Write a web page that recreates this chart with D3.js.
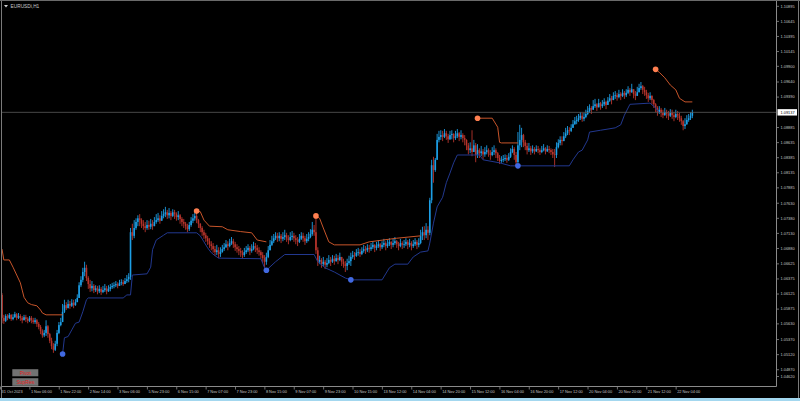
<!DOCTYPE html>
<html><head><meta charset="utf-8">
<script src="https://cdn.jsdelivr.net/npm/d3@7"></script>
<style>html,body{margin:0;padding:0;background:#000;overflow:hidden}</style>
</head><body>
<svg id="c" width="800" height="401"></svg>
<script>
const symbolTitle = "EURUSDi,H1";
const timeLabels = ["31 Oct 2023","1 Nov 06:00","1 Nov 22:00","2 Nov 14:00","3 Nov 06:00","5 Nov 23:00","6 Nov 15:00","7 Nov 07:00","7 Nov 23:00","8 Nov 15:00","9 Nov 07:00","9 Nov 23:00","10 Nov 15:00","13 Nov 12:00","14 Nov 04:00","14 Nov 20:00","15 Nov 12:00","16 Nov 04:00","16 Nov 20:00","17 Nov 12:00","20 Nov 04:00","20 Nov 20:00","21 Nov 12:00","22 Nov 04:00"];
const barsPerTimeLabel = 16;
const priceTicks = [1.10895,1.10645,1.10395,1.10145,1.09900,1.09640,1.09390,1.08885,1.08635,1.08385,1.08135,1.07885,1.07630,1.07380,1.07130,1.06880,1.06625,1.06375,1.06125,1.05875,1.05630,1.05370,1.05120,1.04870,1.04620];
const bidPrice = 1.09137;
const buttons = ["Pivot","SupRes"];
const firstOpen = 1.0611;
const closes = [
1.0573,1.0568,1.0576,1.0573,1.0578,1.0571,1.0574,1.0579,1.0573,1.0576,
1.0573,1.0569,1.0574,1.0571,1.0568,1.0573,1.0569,1.0566,1.0569,1.0563,
1.0558,1.0551,1.0544,1.0548,1.0559,1.0546,1.0535,1.0526,1.0520,1.0530,
1.0548,1.0561,1.0566,1.0583,1.0594,1.0589,1.0596,1.0593,1.0598,1.0594,
1.0599,1.0606,1.0627,1.0636,1.0649,1.0656,1.0639,1.0629,1.0622,1.0626,
1.0619,1.0622,1.0617,1.0621,1.0616,1.0619,1.0622,1.0617,1.0621,1.0624,
1.0626,1.0627,1.0629,1.0626,1.0631,1.0632,1.0629,1.0634,1.0637,1.0641,
1.0715,1.0709,1.0722,1.0732,1.0738,1.0735,1.0729,1.0725,1.0722,1.0727,
1.0724,1.0729,1.0725,1.0732,1.0735,1.0738,1.0734,1.0742,1.0745,1.0748,
1.0743,1.0747,1.0742,1.0748,1.0745,1.0740,1.0743,1.0737,1.0732,1.0729,
1.0725,1.0720,1.0727,1.0734,1.0738,1.0742,1.0735,1.0729,1.0722,1.0715,
1.0710,1.0705,1.0700,1.0695,1.0692,1.0687,1.0682,1.0685,1.0679,1.0682,
1.0687,1.0690,1.0695,1.0692,1.0697,1.0700,1.0695,1.0690,1.0687,1.0684,
1.0681,1.0677,1.0682,1.0685,1.0689,1.0684,1.0687,1.0692,1.0689,1.0685,
1.0682,1.0677,1.0672,1.0666,1.0674,1.0685,1.0694,1.0700,1.0705,1.0709,
1.0705,1.0709,1.0704,1.0707,1.0710,1.0705,1.0702,1.0707,1.0709,1.0705,
1.0702,1.0699,1.0704,1.0709,1.0705,1.0700,1.0704,1.0707,1.0712,1.0719,
1.0715,1.0685,1.0666,1.0669,1.0662,1.0666,1.0661,1.0664,1.0669,1.0666,
1.0671,1.0667,1.0672,1.0669,1.0674,1.0666,1.0662,1.0659,1.0664,1.0667,
1.0674,1.0677,1.0676,1.0681,1.0682,1.0679,1.0684,1.0687,1.0685,1.0689,
1.0687,1.0690,1.0694,1.0689,1.0692,1.0695,1.0690,1.0694,1.0697,1.0692,
1.0695,1.0699,1.0694,1.0697,1.0700,1.0695,1.0692,1.0697,1.0694,1.0695,
1.0699,1.0694,1.0697,1.0692,1.0695,1.0699,1.0694,1.0697,1.0709,1.0715,
1.0710,1.0719,1.0714,1.0768,1.0826,1.0818,1.0835,1.0868,1.0873,1.0876,
1.0873,1.0879,1.0874,1.0869,1.0876,1.0878,1.0871,1.0874,1.0879,1.0873,
1.0876,1.0871,1.0868,1.0859,1.0851,1.0854,1.0848,1.0859,1.0843,1.0851,
1.0846,1.0849,1.0844,1.0848,1.0851,1.0846,1.0843,1.0848,1.0851,1.0846,
1.0838,1.0833,1.0835,1.0836,1.0838,1.0835,1.0840,1.0848,1.0853,1.0843,
1.0831,1.0859,1.0868,1.0876,1.0864,1.0858,1.0851,1.0854,1.0849,1.0853,
1.0849,1.0853,1.0851,1.0848,1.0851,1.0854,1.0849,1.0853,1.0851,1.0848,
1.0844,1.0843,1.0856,1.0863,1.0868,1.0866,1.0874,1.0879,1.0884,1.0883,
1.0888,1.0894,1.0899,1.0901,1.0904,1.0908,1.0903,1.0906,1.0911,1.0916,
1.0921,1.0918,1.0924,1.0927,1.0922,1.0929,1.0924,1.0927,1.0931,1.0926,
1.0933,1.0937,1.0934,1.0941,1.0942,1.0939,1.0944,1.0941,1.0946,1.0942,
1.0946,1.0951,1.0947,1.0952,1.0944,1.0941,1.0947,1.0954,1.0957,1.0951,
1.0947,1.0942,1.0937,1.0941,1.0934,1.0927,1.0921,1.0914,1.0918,1.0913,
1.0909,1.0914,1.0911,1.0908,1.0913,1.0909,1.0906,1.0911,1.0908,1.0904,
1.0899,1.0891,1.0894,1.0901,1.0904,1.0908,1.0914];
const highs = [
1.0614,1.0578,1.0579,1.0579,1.0581,1.0579,1.0579,1.0583,1.0581,1.0581,
1.0579,1.0576,1.0578,1.0578,1.0574,1.0576,1.0576,1.0573,1.0573,1.0571,
1.0566,1.0561,1.0554,1.0553,1.0569,1.0561,1.0548,1.0540,1.0531,1.0535,
1.0553,1.0566,1.0573,1.0596,1.0603,1.0599,1.0603,1.0601,1.0604,1.0603,
1.0604,1.0612,1.0632,1.0642,1.0656,1.0666,1.0661,1.0642,1.0636,1.0634,
1.0629,1.0627,1.0626,1.0627,1.0624,1.0626,1.0629,1.0626,1.0627,1.0629,
1.0631,1.0632,1.0634,1.0632,1.0636,1.0637,1.0636,1.0639,1.0644,1.0647,
1.0722,1.0729,1.0735,1.0738,1.0743,1.0745,1.0738,1.0735,1.0732,1.0735,
1.0734,1.0737,1.0735,1.0740,1.0745,1.0747,1.0743,1.0750,1.0753,1.0757,
1.0752,1.0755,1.0750,1.0753,1.0752,1.0748,1.0750,1.0745,1.0740,1.0737,
1.0732,1.0729,1.0732,1.0740,1.0745,1.0748,1.0747,1.0737,1.0730,1.0725,
1.0719,1.0714,1.0709,1.0705,1.0700,1.0697,1.0692,1.0694,1.0690,1.0690,
1.0694,1.0697,1.0702,1.0700,1.0704,1.0707,1.0704,1.0699,1.0695,1.0692,
1.0689,1.0685,1.0689,1.0692,1.0695,1.0692,1.0695,1.0699,1.0697,1.0694,
1.0690,1.0685,1.0682,1.0677,1.0681,1.0692,1.0702,1.0709,1.0712,1.0715,
1.0714,1.0715,1.0712,1.0715,1.0719,1.0714,1.0710,1.0715,1.0717,1.0714,
1.0710,1.0707,1.0712,1.0715,1.0714,1.0709,1.0712,1.0715,1.0720,1.0732,
1.0727,1.0740,1.0690,1.0676,1.0672,1.0674,1.0669,1.0672,1.0677,1.0674,
1.0677,1.0676,1.0679,1.0677,1.0681,1.0674,1.0671,1.0667,1.0671,1.0676,
1.0681,1.0684,1.0682,1.0687,1.0689,1.0687,1.0690,1.0694,1.0692,1.0695,
1.0694,1.0697,1.0700,1.0695,1.0699,1.0702,1.0697,1.0700,1.0704,1.0700,
1.0702,1.0705,1.0700,1.0704,1.0707,1.0702,1.0699,1.0704,1.0700,1.0702,
1.0705,1.0702,1.0704,1.0700,1.0702,1.0705,1.0702,1.0705,1.0719,1.0724,
1.0725,1.0730,1.0725,1.0772,1.0835,1.0840,1.0838,1.0878,1.0883,1.0884,
1.0883,1.0886,1.0883,1.0878,1.0883,1.0884,1.0879,1.0883,1.0886,1.0881,
1.0884,1.0879,1.0876,1.0869,1.0863,1.0864,1.0884,1.0868,1.0863,1.0861,
1.0854,1.0858,1.0853,1.0856,1.0859,1.0854,1.0851,1.0856,1.0859,1.0854,
1.0848,1.0843,1.0841,1.0843,1.0844,1.0843,1.0846,1.0854,1.0859,1.0856,
1.0848,1.0881,1.0893,1.0888,1.0878,1.0868,1.0863,1.0863,1.0858,1.0859,
1.0856,1.0859,1.0858,1.0854,1.0858,1.0861,1.0856,1.0859,1.0858,1.0854,
1.0853,1.0853,1.0864,1.0869,1.0874,1.0874,1.0881,1.0888,1.0891,1.0889,
1.0894,1.0901,1.0906,1.0908,1.0911,1.0914,1.0913,1.0913,1.0918,1.0924,
1.0927,1.0924,1.0934,1.0936,1.0929,1.0936,1.0931,1.0934,1.0937,1.0933,
1.0939,1.0944,1.0941,1.0947,1.0949,1.0946,1.0951,1.0947,1.0952,1.0949,
1.0952,1.0957,1.0954,1.0961,1.0952,1.0949,1.0956,1.0961,1.0964,1.0959,
1.0956,1.0951,1.0946,1.0947,1.0942,1.0936,1.0929,1.0924,1.0924,1.0921,
1.0918,1.0921,1.0918,1.0916,1.0919,1.0918,1.0914,1.0918,1.0916,1.0913,
1.0908,1.0901,1.0904,1.0909,1.0911,1.0914,1.0918];
const lows = [
1.0564,1.0563,1.0566,1.0569,1.0571,1.0568,1.0569,1.0573,1.0569,1.0571,
1.0568,1.0564,1.0569,1.0566,1.0564,1.0566,1.0564,1.0563,1.0563,1.0558,
1.0554,1.0546,1.0540,1.0541,1.0543,1.0540,1.0531,1.0521,1.0515,1.0518,
1.0526,1.0546,1.0559,1.0566,1.0581,1.0586,1.0589,1.0588,1.0591,1.0589,
1.0593,1.0599,1.0606,1.0624,1.0632,1.0642,1.0634,1.0621,1.0616,1.0617,
1.0614,1.0616,1.0612,1.0614,1.0611,1.0614,1.0616,1.0612,1.0616,1.0617,
1.0621,1.0622,1.0624,1.0622,1.0626,1.0627,1.0626,1.0629,1.0631,1.0632,
1.0636,1.0702,1.0705,1.0719,1.0725,1.0725,1.0722,1.0719,1.0715,1.0719,
1.0719,1.0720,1.0719,1.0725,1.0729,1.0732,1.0729,1.0734,1.0738,1.0740,
1.0737,1.0738,1.0735,1.0740,1.0737,1.0734,1.0735,1.0729,1.0725,1.0722,
1.0719,1.0715,1.0717,1.0724,1.0730,1.0734,1.0730,1.0722,1.0715,1.0709,
1.0704,1.0699,1.0694,1.0689,1.0685,1.0681,1.0676,1.0677,1.0672,1.0674,
1.0681,1.0684,1.0689,1.0685,1.0690,1.0694,1.0689,1.0684,1.0681,1.0677,
1.0674,1.0671,1.0674,1.0679,1.0682,1.0677,1.0681,1.0685,1.0682,1.0679,
1.0676,1.0671,1.0664,1.0656,1.0661,1.0672,1.0685,1.0692,1.0697,1.0702,
1.0699,1.0700,1.0697,1.0700,1.0702,1.0699,1.0695,1.0700,1.0702,1.0699,
1.0695,1.0692,1.0697,1.0702,1.0699,1.0694,1.0697,1.0700,1.0705,1.0709,
1.0709,1.0679,1.0659,1.0662,1.0656,1.0659,1.0654,1.0657,1.0662,1.0659,
1.0664,1.0661,1.0666,1.0662,1.0667,1.0659,1.0656,1.0649,1.0652,1.0661,
1.0659,1.0671,1.0669,1.0674,1.0676,1.0674,1.0677,1.0681,1.0679,1.0682,
1.0681,1.0684,1.0687,1.0682,1.0685,1.0689,1.0684,1.0687,1.0690,1.0685,
1.0689,1.0692,1.0687,1.0690,1.0694,1.0689,1.0685,1.0690,1.0687,1.0689,
1.0692,1.0687,1.0690,1.0685,1.0689,1.0692,1.0687,1.0690,1.0695,1.0702,
1.0702,1.0705,1.0702,1.0710,1.0763,1.0797,1.0815,1.0835,1.0864,1.0868,
1.0866,1.0871,1.0868,1.0863,1.0868,1.0869,1.0864,1.0868,1.0871,1.0866,
1.0869,1.0864,1.0859,1.0851,1.0844,1.0846,1.0841,1.0851,1.0831,1.0838,
1.0838,1.0841,1.0836,1.0840,1.0844,1.0840,1.0835,1.0841,1.0843,1.0838,
1.0833,1.0828,1.0830,1.0831,1.0833,1.0830,1.0833,1.0838,1.0846,1.0835,
1.0825,1.0830,1.0851,1.0856,1.0856,1.0851,1.0844,1.0848,1.0843,1.0846,
1.0844,1.0848,1.0846,1.0843,1.0846,1.0849,1.0844,1.0848,1.0846,1.0843,
1.0838,1.0823,1.0838,1.0854,1.0859,1.0859,1.0866,1.0871,1.0876,1.0876,
1.0881,1.0888,1.0893,1.0894,1.0898,1.0901,1.0898,1.0899,1.0904,1.0909,
1.0913,1.0911,1.0918,1.0921,1.0916,1.0922,1.0918,1.0921,1.0924,1.0919,
1.0926,1.0931,1.0927,1.0934,1.0936,1.0933,1.0937,1.0934,1.0939,1.0936,
1.0939,1.0944,1.0941,1.0946,1.0937,1.0934,1.0941,1.0947,1.0951,1.0944,
1.0941,1.0936,1.0931,1.0934,1.0927,1.0921,1.0914,1.0908,1.0911,1.0906,
1.0904,1.0908,1.0904,1.0901,1.0906,1.0903,1.0899,1.0904,1.0901,1.0898,
1.0893,1.0884,1.0886,1.0893,1.0898,1.0901,1.0904];
// resistance / support trailing lines: [barIndex, price] vertices
const resistanceLines = [
 [[0,1.0687],[1,1.0669],[4,1.0669],[6,1.0657],[8,1.0644],[10,1.0631],[11,1.0619],[12,1.0607],[14,1.0598],[16,1.0595],[19,1.0593],[21,1.0586],[22,1.0581],[24,1.0578],[33,1.0578]],
 [[106,1.0750],[108,1.0749],[110,1.0735],[113,1.0725],[120,1.0724],[123,1.0719],[130,1.0716],[136,1.0714],[139,1.0702],[144,1.0699]],
 [[171,1.0742],[173,1.0738],[175,1.0722],[178,1.0699],[181,1.0694],[195,1.0694],[200,1.0699],[215,1.0705],[228,1.0709]],
 [[259,1.0904],[267,1.0904],[270,1.0889],[271,1.0864],[272,1.0863],[281,1.0863]],
 [[356,1.0985],[358,1.0980],[361,1.0971],[364,1.0959],[367,1.0951],[369,1.0937],[372,1.0931],[376,1.0931]]
];
const supportLines = [
 [[33,1.0513],[34,1.0540],[36,1.0542],[38,1.0553],[40,1.0564],[42,1.0566],[44,1.0583],[46,1.0603],[47,1.0606],[66,1.0606],[68,1.0611],[70,1.0611],[71,1.0644],[79,1.0646],[81,1.0657],[82,1.0686],[84,1.0702],[88,1.0710],[90,1.0714],[106,1.0714],[108,1.0709],[110,1.0699],[112,1.0689],[114,1.0681],[116,1.0676],[118,1.0672],[141,1.0671],[143,1.0656],[144,1.0652],[149,1.0666],[154,1.0678],[170,1.0678],[172,1.0666],[176,1.0656],[181,1.0649],[187,1.0639],[190,1.0636],[207,1.0636],[211,1.0656],[214,1.0662],[221,1.0662],[224,1.0674],[228,1.0682],[232,1.0684],[233,1.0697],[235,1.0730],[237,1.0757],[240,1.0773],[242,1.0797],[244,1.0813],[246,1.0830],[248,1.0843],[260,1.0843],[262,1.0835],[271,1.0830],[277,1.0825],[309,1.0825],[311,1.0835],[314,1.0848],[316,1.0851],[319,1.0868],[320,1.0881],[326,1.0884],[334,1.0888],[337,1.0893],[339,1.0909],[342,1.0927],[353,1.0929],[356,1.0921],[358,1.0913]]
];
const resistanceDots = [[106,1.0750],[171,1.0742],[259,1.0904],[356,1.0985]];
const supportDots = [[33,1.0513],[144,1.0652],[190,1.0636],[281,1.0825]];

const W = 800, H = 401;
const plotLeft = 2, plotRight = 776.5, plotTop = 0, plotBottom = 386.5;
const barStep = 1.836;
const svg = d3.select("#c");
const font = "'Liberation Sans', Arial, sans-serif";
const axisColor = "#8a8a8a", textColor = "#c4c4c4";
const bullColor = "#1d9fe6", bearColor = "#b8342c";

const x = d3.scaleLinear().domain([0, closes.length - 1]).range([plotLeft, plotLeft + barStep * (closes.length - 1)]);
const y = d3.scaleLinear().domain([1.04620, 1.10895]).range([384.8, 6.3]);

svg.append("rect").attr("width", W).attr("height", H).attr("fill", "#000");

// candles
const bars = closes.map((c, i) => {
  const o = i === 0 ? firstOpen : closes[i - 1];
  return {i, o, c, h: Math.max(highs[i], o, c), l: Math.min(lows[i], o, c)};
});
const gC = svg.append("g");
gC.selectAll("line.w").data(bars).join("line")
  .attr("x1", d => x(d.i)).attr("x2", d => x(d.i))
  .attr("y1", d => y(d.h)).attr("y2", d => y(d.l))
  .attr("stroke", d => d.c >= d.o ? bullColor : bearColor).attr("stroke-width", 0.9);
gC.selectAll("rect.b").data(bars).join("rect")
  .attr("x", d => x(d.i) - 0.8).attr("width", 1.6)
  .attr("y", d => y(Math.max(d.o, d.c)))
  .attr("height", d => Math.max(0.8, y(Math.min(d.o, d.c)) - y(Math.max(d.o, d.c))))
  .attr("fill", d => d.c >= d.o ? bullColor : bearColor);

// indicator lines
const line = d3.line().x(d => x(d[0])).y(d => y(d[1]));
svg.append("g").selectAll("path").data(supportLines).join("path")
  .attr("d", line).attr("fill", "none").attr("stroke", "#22388f").attr("stroke-width", 1);
svg.append("g").selectAll("path").data(resistanceLines).join("path")
  .attr("d", line).attr("fill", "none").attr("stroke", "#c8552a").attr("stroke-width", 1);
svg.append("g").selectAll("circle").data(supportDots).join("circle")
  .attr("cx", d => x(d[0])).attr("cy", d => y(d[1])).attr("r", 2.8).attr("fill", "#4169e1");
svg.append("g").selectAll("circle").data(resistanceDots).join("circle")
  .attr("cx", d => x(d[0])).attr("cy", d => y(d[1])).attr("r", 2.8).attr("fill", "#ff7f50");

// bid line
const yb = y(bidPrice);
svg.append("line").attr("x1", plotLeft).attr("x2", plotRight).attr("y1", yb).attr("y2", yb)
  .attr("stroke", "#5a5a5a").attr("stroke-width", 0.8);

// frame / axes
svg.append("line").attr("x1", plotRight).attr("x2", plotRight).attr("y1", 0).attr("y2", plotBottom).attr("stroke", axisColor).attr("stroke-width", 1);
svg.append("line").attr("x1", plotLeft - 0.5).attr("x2", plotRight).attr("y1", plotBottom).attr("y2", plotBottom).attr("stroke", axisColor).attr("stroke-width", 1);
svg.append("line").attr("x1", 1.5).attr("x2", 1.5).attr("y1", 0).attr("y2", 398).attr("stroke", "#7a7a7a").attr("stroke-width", 1);
svg.append("line").attr("x1", 798.5).attr("x2", 798.5).attr("y1", 0).attr("y2", 398).attr("stroke", "#7a7a7a").attr("stroke-width", 1);
svg.append("line").attr("x1", 0).attr("x2", 800).attr("y1", 0.5).attr("y2", 0.5).attr("stroke", "#6a6a6a").attr("stroke-width", 1);
svg.append("rect").attr("x", 0).attr("y", 398).attr("width", 800).attr("height", 3).attr("fill", "#a3d7ef");

// price axis
const gY = svg.append("g");
priceTicks.forEach(v => {
  const yy = Math.min(y(v), 376.5);
  gY.append("line").attr("x1", plotRight).attr("x2", plotRight + 2.5).attr("y1", yy).attr("y2", yy).attr("stroke", axisColor).attr("stroke-width", 0.8);
  gY.append("text").attr("x", 780.5).attr("y", yy).attr("dy", "0.35em").attr("font-family", font).attr("font-size", 3.9).attr("fill", textColor).text(v.toFixed(5));
});
gY.append("rect").attr("x", 777.5).attr("y", yb - 3.2).attr("width", 19.5).attr("height", 6.4).attr("fill", "#ffffff");
gY.append("text").attr("x", 780.5).attr("y", yb).attr("dy", "0.35em").attr("font-family", font).attr("font-size", 3.9).attr("fill", "#000").text(bidPrice.toFixed(5));

// time axis
const gX = svg.append("g");
timeLabels.forEach((t, k) => {
  const xx = x(k * barsPerTimeLabel);
  gX.append("line").attr("x1", xx - 1.5).attr("x2", xx - 1.5).attr("y1", plotBottom).attr("y2", plotBottom + 3).attr("stroke", axisColor).attr("stroke-width", 0.8);
  gX.append("text").attr("x", xx - 0.5).attr("y", 393.3).attr("font-family", font).attr("font-size", 3.9).attr("fill", textColor).text(t);
});

// header
svg.append("path").attr("d", "M4,5 L8,5 L6,7.6 Z").attr("fill", "#d0d0d0");
svg.append("text").attr("x", 10.5).attr("y", 8.2).attr("font-family", font).attr("font-size", 4.8).attr("fill", "#c8c8c8").text(symbolTitle);

// buttons
const btnTops = [369.2, 378.2], btnH = [7.1, 7.6];
buttons.forEach((b, k) => {
  svg.append("rect").attr("x", 12.3).attr("y", btnTops[k]).attr("width", 26).attr("height", btnH[k]).attr("fill", "#727272");
  svg.append("text").attr("x", 25.3).attr("y", btnTops[k] + btnH[k] / 2).attr("dy", "0.35em").attr("text-anchor", "middle")
    .attr("font-family", font).attr("font-size", 5).attr("fill", "#e32222").text(b);
});
</script>
</body></html>
